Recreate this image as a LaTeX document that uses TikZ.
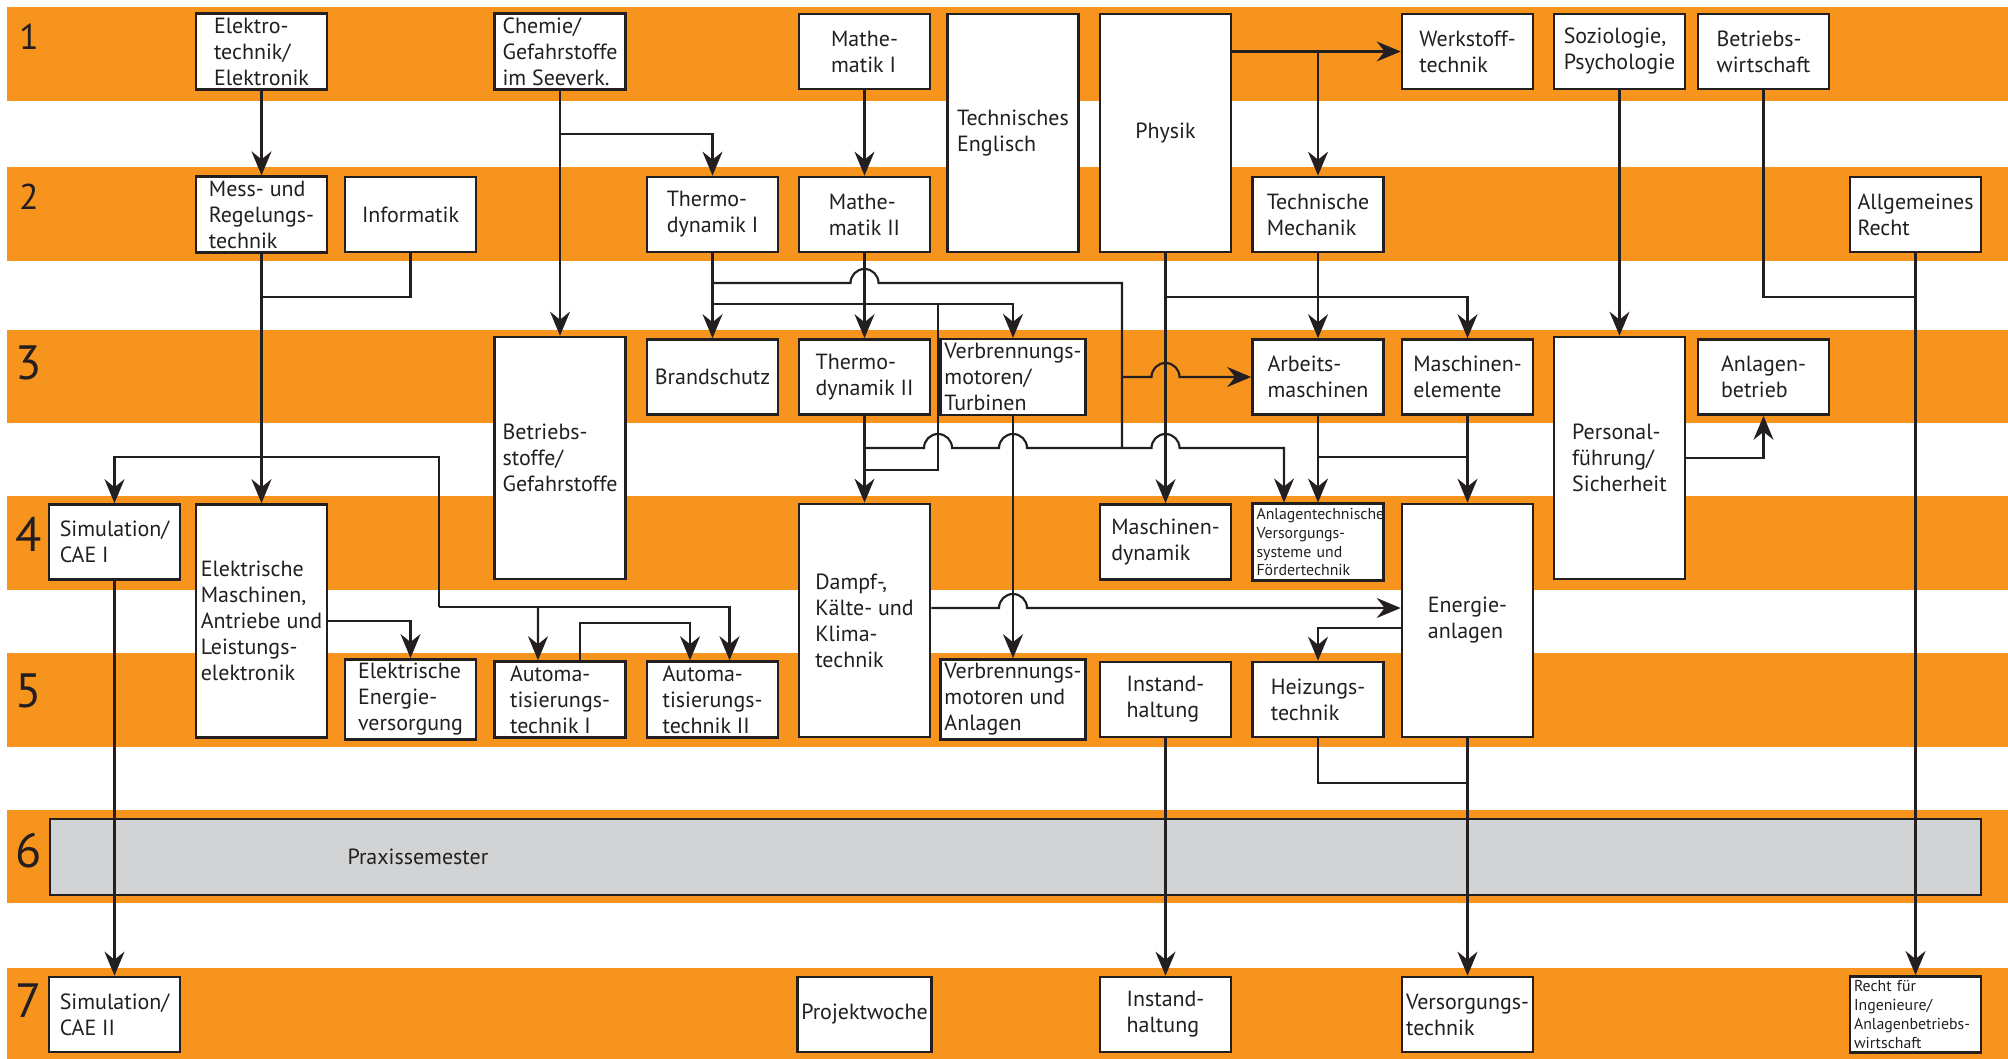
\documentclass[tikz,border=0pt]{standalone}
\usepackage{fontspec}
\setmainfont{PT Sans}
\usetikzlibrary{arrows.meta}
\definecolor{bandorange}{HTML}{F7941D}
\definecolor{praxisgrey}{HTML}{D1D3D4}
\definecolor{ink}{HTML}{231F20}
\newcommand{\boxfont}{\fontsize{6.25}{7.4}\selectfont}
\newcommand{\smallboxfont}{\fontsize{4.5}{5.4}\selectfont}
\tikzstyle{band} = [fill=bandorange]
\tikzstyle{sem} = [text=ink]
\tikzstyle{course} = [rectangle, draw=ink, fill=white, text=ink, line width=0.75pt, minimum width=13.1mm, minimum height=7.5mm, inner sep=0.4mm, align=left, font=\boxfont]
\tikzstyle{tallcourse} = [course, minimum height=23.3mm]
\tikzstyle{smallcourse} = [course, font=\smallboxfont, text width=12.3mm]
\tikzstyle{arrow} = [draw=ink, line width=0.6pt, ->, >={Stealth[length=2.4mm, width=2mm, inset=0.8mm]}]
\tikzstyle{line} = [draw=ink, line width=0.6pt]

\begin{document}
\begin{tikzpicture}[x=0.1mm, y=-0.1mm]
\useasboundingbox (0,0) rectangle (2008,1059);

% semester bands
\foreach \ya/\yb in {7/101, 167/261, 330/423, 496/590, 653/747, 810/903, 968/1059}
  \fill [band] (7,\ya) rectangle (2008,\yb);
\foreach \n/\y/\s in {1/37/10.2, 2/197/10.2, 3/363/13.7, 4/534/13.7, 5/691/13.7, 6/851/13.7, 7/1001/13.7}
  \node (sem\n) [sem, font=\fontsize{\s}{\s}\selectfont] at (29,\y) {\n};

% semester 1
\node (elektro) [course] at (261.5,51.5) {Elektro-\\technik/\\Elektronik};
\node (chemie) [course] at (560,51.5) {Chemie/\\Gefahrstoffe\\im Seeverk.};
\node (mathe1) [course] at (864.5,51.5) {Mathe-\\matik I};
\node (englisch) [course, minimum height=23.8mm] at (1013,133) {Technisches\\Englisch};
\node (physik) [course, minimum height=23.8mm] at (1165.5,133) {Physik};
\node (werkstoff) [course] at (1467.5,51.5) {Werkstoff-\\technik};
\node (sozio) [course] at (1619.5,51.5) {Soziologie,\\Psychologie};
\node (bwl) [course] at (1763.5,51.5) {Betriebs-\\wirtschaft};

% semester 2
\node (mess) [course] at (261.5,214.5) {Mess- und\\Regelungs-\\technik};
\node (info) [course] at (410.5,214.5) {Informatik};
\node (thermo1) [course] at (712.5,214.5) {Thermo-\\dynamik I};
\node (mathe2) [course] at (864.5,214.5) {Mathe-\\matik II};
\node (techmech) [course] at (1318,214.5) {Technische\\Mechanik};
\node (allgrecht) [course] at (1915.5,214.5) {Allgemeines\\Recht};

% semester 3
\node (betrstoffe) [course, minimum height=24.2mm] at (560,458) {Betriebs-\\stoffe/\\Gefahrstoffe};
\node (brand) [course] at (712.5,377) {Brandschutz};
\node (thermo2) [course] at (864.5,377) {Thermo-\\dynamik II};
\node (verbr1) [course] at (1013,377) {Verbrennungs-\\motoren/\\Turbinen};
\node (arbeits) [course] at (1318,377) {Arbeits-\\maschinen};
\node (maschelem) [course] at (1467.5,377) {Maschinen-\\elemente};
\node (personal) [course, minimum height=24.2mm] at (1619.5,458) {Personal-\\führung/\\Sicherheit};
\node (anlbetr) [course] at (1763.5,377) {Anlagen-\\betrieb};

% semester 4
\node (sim1) [course] at (114.5,542) {Simulation/\\CAE I};
\node (elmasch) [tallcourse] at (261.5,621) {Elektrische\\Maschinen,\\Antriebe und\\Leistungs-\\elektronik};
\node (dampf) [tallcourse] at (864.5,620.5) {Dampf-,\\Kälte- und\\Klima-\\technik};
\node (maschdyn) [course] at (1165.5,542) {Maschinen-\\dynamik};
\node (anlagen) [smallcourse] at (1318,542) {Anlagentechnische\\Versorgungs-\\systeme und\\Fördertechnik};
\node (energie) [tallcourse] at (1467.5,620.5) {Energie-\\anlagen};

% semester 5
\node (elversorg) [course] at (410.5,699.5) {Elektrische\\Energie-\\versorgung};
\node (auto1) [course] at (560,699.5) {Automa-\\tisierungs-\\technik I};
\node (auto2) [course] at (712.5,699.5) {Automa-\\tisierungs-\\technik II};
\node (verbr2) [course] at (1013,699.5) {Verbrennungs-\\motoren und\\Anlagen};
\node (instand5) [course] at (1165.5,699.5) {Instand-\\haltung};
\node (heizung) [course] at (1318,699.5) {Heizungs-\\technik};

% semester 6
\node (praxis) [course, fill=praxisgrey, minimum width=193.1mm, minimum height=7.6mm, text width=192mm] at (1015.5,857) {\hspace*{29.2mm}Praxissemester};

% semester 7
\node (sim2) [course] at (114.5,1014.5) {Simulation/\\CAE II};
\node (projekt) [course] at (864.5,1014.5) {Projektwoche};
\node (instand7) [course] at (1165.5,1014.5) {Instand-\\haltung};
\node (versorg) [course] at (1467.5,1014.5) {Versorgungs-\\technik};
\node (recht) [smallcourse] at (1915.5,1014.5) {Recht für\\Ingenieure/\\Anlagenbetriebs-\\wirtschaft};

% junctions
\coordinate (mj) at (261.5,297);
\coordinate (mk) at (261.5,457);
\coordinate (ak) at (439,607);
\coordinate (cj) at (560,134);
\coordinate (t1a) at (712.5,283);
\coordinate (t1b) at (712.5,304);
\coordinate (t1c) at (938,304);
\coordinate (t2a) at (864.5,448);
\coordinate (t2b) at (864.5,470);
\coordinate (vj) at (1122,377);
\coordinate (pj) at (1165.5,297);
\coordinate (aj) at (1318,457);
\coordinate (bj) at (1915.5,297);
\coordinate (hj) at (1467.5,783);

\draw [arrow] (elektro) -- (mess);
\draw [line] (info) |- (mj);
\draw [arrow] (mess) -- (elmasch);
\draw [arrow] (mk) -| (sim1);
\draw [line] (mk) -| (ak);
\draw [arrow] (ak) -| ([xshift=1.7mm]auto2.north);
\draw [arrow] (ak -| 538,0) -- ([xshift=-2.2mm]auto1.north);
\draw [arrow] ([xshift=2mm]auto1.north) -- ++(0,-37) -| ([xshift=-2.25mm]auto2.north);
\draw [arrow] (elmasch) -| (elversorg);
\draw [arrow] (sim1) -- (sim2);
\draw [arrow] (chemie) -- (betrstoffe);
\draw [arrow] (cj) -| (thermo1);
\draw [arrow] (mathe1) -- (mathe2);
\draw [arrow] (mathe2) -- (thermo2);
\draw [arrow] (thermo1) -- (brand);
\draw [line] (t1a) -- (850.5,283) arc (180:0:1.4mm) -- (1122,283) -- (1122,448);
\draw [arrow] (t1b) -| (verbr1);
\draw [line] (t1c) |- (t2b);
\draw [arrow] (thermo2) -- (dampf);
\draw [arrow] (t2a) -- (924,448) arc (180:0:1.4mm) -- (999,448) arc (180:0:1.4mm) -- (1151.5,448) arc (180:0:1.4mm) -| ([xshift=-3.4mm]anlagen.north);
\draw [arrow] (vj) -- (1151.5,377) arc (180:0:1.4mm) -- (arbeits);
\draw [arrow] (verbr1) -- (verbr2);
\draw [arrow] ([yshift=1.25mm]dampf.east) -- (999,608) arc (180:0:1.4mm) -- ([yshift=1.25mm]energie.west);
\draw [arrow] ([yshift=-0.75mm]energie.west) -| (heizung);
\draw [arrow] (physik.east |- werkstoff) -- (werkstoff);
\draw [arrow] (techmech |- werkstoff) -- (techmech);
\draw [arrow] (physik) -- (maschdyn);
\draw [arrow] (pj) -| (maschelem);
\draw [arrow] (techmech) -- (arbeits);
\draw [arrow] (arbeits) -- (anlagen);
\draw [line] (aj) -- (aj -| maschelem);
\draw [arrow] (maschelem) -- (energie);
\draw [arrow] (sozio) -- (personal);
\draw [arrow] (personal) -| (anlbetr);
\draw [line] (bwl) |- (bj);
\draw [arrow] (allgrecht) -- (recht);
\draw [line] (heizung) |- (hj);
\draw [arrow] (energie) -- (versorg);
\draw [arrow] (instand5) -- (instand7);

\end{tikzpicture}
\end{document}
